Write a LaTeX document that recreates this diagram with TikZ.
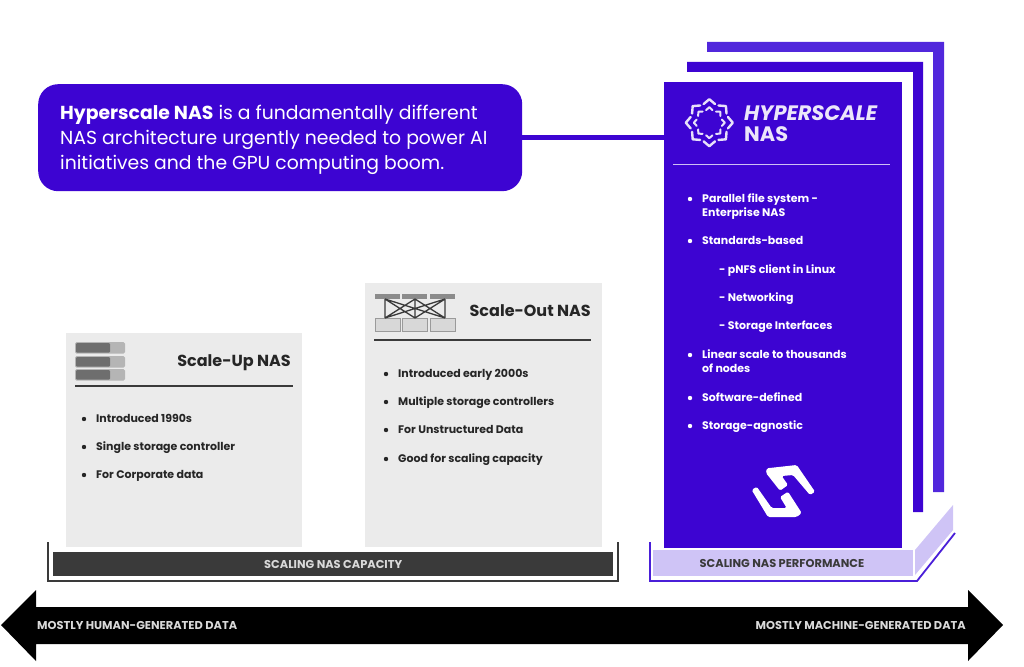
\documentclass[tikz,border=0pt]{standalone}
\usepackage{fontspec}
\setmainfont{Poppins}
\usepackage{xcolor}
\usepackage{tikz}
\usetikzlibrary{positioning}
\definecolor{nasblue}{HTML}{3D04D2}
\definecolor{nasframe}{HTML}{5127DC}
\definecolor{naslilac}{HTML}{CFC4F6}
\definecolor{nasline}{HTML}{4A1FD8}
\definecolor{nasgrey}{HTML}{EBEBEB}
\definecolor{nasdark}{HTML}{3A3A3A}
\definecolor{nasicon}{HTML}{6E6E6E}
\definecolor{nasiconlight}{HTML}{B5B5B5}
\tikzset{
  panel/.style={fill=nasgrey, anchor=north west, inner sep=0pt},
  paneltitle/.style={anchor=east, inner sep=0pt, text=black!85, text height=13pt, text depth=3pt, font=\fontsize{16}{18}\selectfont\bfseries},
  item/.style={anchor=west, inner sep=0pt, text=black!85, text height=9.5pt, text depth=2pt, font=\fontsize{11}{13}\selectfont\bfseries},
  carditem/.style={anchor=west, inner sep=0pt, text=white, text height=9.5pt, text depth=2pt, font=\fontsize{11}{13}\selectfont\bfseries},
  dotmark/.style={circle, fill=#1, inner sep=0pt, minimum size=4.4pt},
  band/.style={anchor=center, inner sep=0pt, font=\fontsize{11.4}{13}\selectfont\bfseries}
}
\begin{document}
\begin{tikzpicture}[x=1pt, y=-1pt]
    \useasboundingbox (0,0) rectangle (1024,666);

    % Stacked frames behind the card
    \fill[nasframe] (707,42) -- (944,42) -- (944,492) -- (933,492) -- (933,52) -- (707,52) -- cycle;
    \fill[nasblue] (687,62) -- (923,62) -- (923,512) -- (913,512) -- (913,72) -- (687,72) -- cycle;

    % Platform
    \fill[naslilac] (915,550) -- (953,505) -- (953,530) -- (915,575) -- cycle;
    \fill[naslilac] (653,550) rectangle (913,576);
    \draw[nasline, line width=1.8pt] (650,542) -- (650,581) -- (917,581) -- (955,533);
    \node[band, text=nasdark] (perf) at (782,563.5) {SCALING NAS PERFORMANCE};

    % Card
    \node[fill=nasblue, anchor=north west, inner sep=0pt, minimum width=238pt, minimum height=466pt] (card) at (664,82) {};
    \draw[white!75!nasblue, line width=0.8pt] (673,164) -- (890,164);

    % Callout
    \node[fill=nasblue, rounded corners=20pt, anchor=north west, inner sep=0pt, minimum width=484pt, minimum height=107pt] (callout) at (38,84) {};
    \node[anchor=north west, inner sep=0pt, text=white, align=left, font=\fontsize{18.8}{25.2}\selectfont] (calltext) at (60,104.5)
      {\textbf{Hyperscale NAS} is a fundamentally different\\NAS architecture urgently needed to power AI\\initiatives and the GPU computing boom.};
    \draw[nasblue, line width=4.5pt] (callout.east) -- (card.west |- callout.east);

    % Flower mark
    \begin{scope}[shift={(709.3,122.7)}]
      \foreach \a in {0,45,...,315} {
        \draw[white!88!nasblue, line width=2.4pt, line join=round, line cap=round] (\a-17:19.5) -- (\a:23.5) -- (\a+17:19.5);
        \draw[white!88!nasblue, line width=2pt, line join=round, line cap=round] (\a-14:13) -- (\a:15.5) -- (\a+14:13);
      }
    \end{scope}
    \node[anchor=west, inner sep=0pt, text=white!90!nasblue, align=left, font=\fontsize{20.9}{20.5}\selectfont\bfseries] (brand) at (744,123.5)
      {\textit{HYPERSCALE}\\NAS};

    % Card list
    \foreach \ypos/\name/\txt in {199/a/Parallel file system -, 241/b/Standards-based, 355/c/Linear scale to thousands, 398/d/Software-defined, 426/e/Storage-agnostic} {
      \node[dotmark=white] (dot\name) at (690,\ypos) {};
      \node[carditem] (item\name) at (702,\ypos) {\txt};
    }
    \node[carditem] (itema2) at (702,213) {Enterprise NAS};
    \node[carditem] (itemc2) at (702,369) {of nodes};
    \node[carditem] (subone) at (719,270) {- pNFS client in Linux};
    \node[carditem] (subtwo) at (719,298) {- Networking};
    \node[carditem] (subthree) at (719,326) {- Storage Interfaces};

    % Card logo
    \fill[white, rounded corners=1.5pt] (766.7,468.3) -- (796.7,465) -- (815,491.7) -- (810,495) -- (793,475) -- (781.7,476) -- (788,485) -- (780,490.7) -- (766,473) -- cycle;
    \fill[white, rounded corners=1.5pt] (751.7,490) -- (756.7,486.7) -- (771.7,508) -- (786.7,508) -- (780,497) -- (788,491.7) -- (801.7,513) -- (796.7,517) -- (768,517) -- cycle;

    % Scale-Up panel
    \node[panel, minimum width=236pt, minimum height=214pt] (uppanel) at (66,333) {};
    \foreach \ypos in {342,356,369} {
      \fill[nasiconlight, rounded corners=1.5pt] (75,\ypos) rectangle (125,\ypos+11.5);
      \fill[nasicon, rounded corners=1pt] (76,\ypos+1) rectangle (110,\ypos+10.5);
    }
    \node[paneltitle] (uptitle) at (291,361) {Scale-Up NAS};
    \draw[nasdark, line width=1.6pt] (75,386) -- (293,386);
    \foreach \ypos/\name/\txt in {419/a/Introduced 1990s, 447/b/Single storage controller, 475/c/For Corporate data} {
      \node[dotmark=black!85] (updot\name) at (84,\ypos) {};
      \node[item] (upitem\name) at (96,\ypos) {\txt};
    }

    % Scale-Out panel
    \node[panel, minimum width=237pt, minimum height=264pt] (outpanel) at (365,283) {};
    \foreach \xpos in {375,402,430} {
      \draw[nasicon!70!white, fill=nasgrey!92!black, line width=0.8pt] (\xpos,318) rectangle (\xpos+25,331);
      \fill[nasicon!80!white] (\xpos,294) rectangle (\xpos+25,299);
    }
    \draw[nasdark, line width=1.3pt] (385,299) -- (385,318) (445,299) -- (445,318)
      (385,299) -- (415,318) (385,299) -- (445,318) (415,299) -- (385,318) (415,299) -- (445,318)
      (445,299) -- (385,318) (445,299) -- (415,318) (415,299) -- (415,318);
    \node[paneltitle] (outtitle) at (591,311) {Scale-Out NAS};
    \draw[nasdark, line width=1.6pt] (374,340) -- (591,340);
    \foreach \ypos/\name/\txt in {374/a/Introduced early 2000s, 402/b/Multiple storage controllers, 430/c/For Unstructured Data, 459/d/Good for scaling capacity} {
      \node[dotmark=black!85] (outdot\name) at (386,\ypos) {};
      \node[item] (outitem\name) at (398,\ypos) {\txt};
    }

    % Capacity bar
    \node[fill=nasdark, anchor=north west, inner sep=0pt, minimum width=560pt, minimum height=24pt] (capbar) at (53,552) {};
    \node[band, text=white!85!black] (captext) at (capbar.center) {SCALING NAS CAPACITY};
    \draw[nasdark, line width=1.8pt] (48,542) -- (48,581) -- (618,581) -- (618,542);

    % Data arrow
    \fill[black] (1,625) -- (36,590) -- (36,607) -- (968,607) -- (968,590) -- (1003,625) -- (968,661) -- (968,644) -- (36,644) -- (36,661) -- cycle;
    \node[band, anchor=west, text=white!85!black] (humantext) at (37,625.5) {MOSTLY HUMAN-GENERATED DATA};
    \node[band, anchor=east, text=white!85!black] (machinetext) at (966,625.5) {MOSTLY MACHINE-GENERATED DATA};
\end{tikzpicture}
\end{document}
